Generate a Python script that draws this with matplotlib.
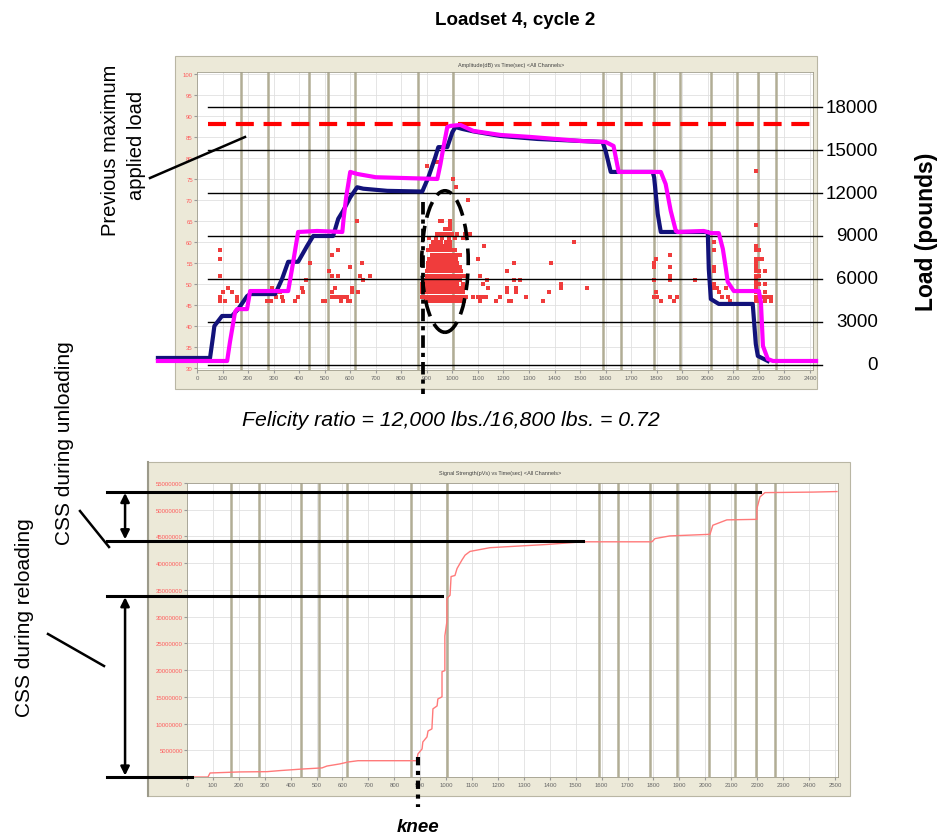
import numpy as np
import matplotlib.pyplot as plt
from matplotlib.patches import Ellipse, Rectangle
from matplotlib.transforms import blended_transform_factory

plt.rcParams['font.family'] = ['Liberation Sans', 'DejaVu Sans']
plt.rcParams['lines.scale_dashes'] = False

# ---------------- data ----------------
# thick olive channel/event markers (s), same in both screenshots
event_times = [171, 277, 438, 511, 619, 864, 1002, 1590, 1662, 1788, 1890, 2014, 2115, 2197, 2268]

# applied load (pounds) vs time (s)
blue_t = [-153, 51, 63, 68, 98, 137, 161, 196, 208, 306, 333, 357, 396, 431, 455, 533, 553, 572,
          600, 627, 651, 745, 882, 906, 933, 945, 980, 1000, 1012, 1039, 1082, 1188, 1333, 1502,
          1588, 1600, 1620, 1647, 1784, 1790, 1804, 1816, 1867, 2000, 2004, 2012, 2043, 2176,
          2188, 2196, 2235]
blue_load = [490, 490, 2020, 2720, 3420, 3420, 3900, 4800, 4950, 4950, 6000, 7200, 7200, 8300,
             9000, 9000, 10200, 10750, 11700, 12400, 12300, 12150, 12100, 13100, 14500, 15200,
             15200, 16250, 16600, 16470, 16300, 15980, 15770, 15630, 15560, 14930, 13470, 13470,
             13470, 13100, 10540, 9280, 9280, 9280, 6700, 4600, 4260, 4260, 1470, 630, 280]

mag_t = [-153, 118, 129, 149, 157, 196, 208, 357, 372, 396, 470, 569, 574, 584, 600, 627, 700,
         941, 953, 965, 980, 992, 1031, 1082, 1188, 1306, 1502, 1600, 1631, 1651, 1816, 1835,
         1855, 1875, 1882, 1984, 2012, 2043, 2059, 2071, 2078, 2102, 2200, 2208, 2216, 2235,
         2255, 2424]
mag_load = [280, 280, 1600, 3700, 3900, 3900, 5160, 5160, 6700, 9280, 9350, 9280, 10200, 11700,
            13470, 13330, 13100, 12980, 14000, 15200, 16600, 16680, 16750, 16330, 16050, 15910,
            15630, 15560, 15280, 13470, 13470, 12630, 10750, 9350, 9280, 9350, 9200, 9200, 8100,
            6700, 5800, 5160, 5160, 4400, 1330, 420, 280, 280]

load_ticks = [0, 3000, 6000, 9000, 12000, 15000, 18000]
prev_max_load = 16800

# AE hits: amplitude (dB) vs time (s)
hit_t = [90, 90, 90, 123, 101, 137, 90, 156, 90, 156, 110, 200, 273, 293, 300, 325, 310, 332, 337,
         290, 411, 417, 397, 384, 443, 425, 494, 502, 528, 554, 515, 528, 554, 541, 528, 528, 541,
         554, 567, 587, 593, 563, 580, 600, 600, 606, 606, 639, 646, 632, 678, 651, 627,
         901, 940, 1004, 1016, 1063, 953, 960, 992, 992, 985, 992,
         1082, 1102, 1125, 1110, 1137, 1118, 1141, 1100, 1115, 1130, 1110, 1169, 1188, 1215, 1215,
         1215, 1220, 1228, 1240, 1240, 1251, 1251, 1263, 1290, 1353, 1377, 1388, 1427, 1427, 1475,
         1529,
         1788, 1788, 1796, 1788, 1796, 1788, 1800, 1816, 1851, 1851, 1851, 1851, 1851, 1867, 1878,
         1949, 2024, 2024, 2024, 2024, 2024, 2024, 2037, 2045, 2071, 2078, 2086, 2055,
         2188, 2188, 2188, 2188, 2200, 2188, 2200, 2212, 2188, 2188, 2188, 2200, 2224, 2188, 2200,
         2188, 2188, 2200, 2224, 2188, 2188, 2200, 2224, 2188, 2200, 2212, 2224, 2236, 2248, 2188,
         2200, 2224, 2248]
hit_db = [58, 56, 52, 49, 48, 48, 47, 47, 46, 46, 46, 47, 46, 49, 48, 48, 47, 47, 46,
          46, 49, 48, 47, 46, 55, 51, 46, 46, 57, 58, 53, 52, 52, 49, 48, 47, 47,
          47, 47, 47, 46, 46, 47, 46, 54, 49, 48, 52, 55, 48, 52, 51, 65,
          78, 79, 75, 73, 70, 65, 65, 65, 64, 63, 63,
          47, 56, 59, 52, 51, 50, 49, 47, 47, 47, 46, 46, 47, 53, 49,
          48, 46, 46, 55, 51, 49, 48, 51, 47, 46, 48, 55, 50, 49, 60,
          49,
          55, 54, 56, 51, 48, 47, 47, 46, 57, 54, 52, 51, 47, 46, 47,
          51, 60, 58, 54, 53, 50, 49, 49, 48, 49, 47, 46, 47,
          77, 64, 59, 58, 58, 56, 56, 56, 55, 54, 53, 53, 53, 52, 52,
          51, 50, 50, 50, 49, 48, 48, 48, 47, 47, 47, 47, 47, 47, 46,
          46, 46, 46]

# dense burst of hits during reloading: dB row -> hit times (s)
burst = {
    46: [895, 905, 915, 925, 935, 945, 955, 965, 975, 985, 995, 1005, 1015, 1025, 1035, 1045],
    47: [882, 892, 902, 912, 922, 932, 942, 952, 962, 972, 982, 992, 1002, 1012, 1022, 1032, 1042, 1052],
    48: [882, 892, 902, 912, 922, 932, 942, 952, 962, 972, 982, 992, 1002, 1012, 1022, 1032, 1042],
    49: [880, 890, 900, 910, 920, 930, 940, 950, 960, 970, 980, 990, 1000, 1010, 1020, 1030, 1045],
    50: [880, 890, 900, 910, 920, 930, 940, 950, 960, 970, 980, 990, 1000, 1010, 1020, 1040],
    51: [890, 900, 910, 920, 930, 940, 950, 960, 970, 980, 990, 1000, 1010, 1020, 1030],
    52: [900, 910, 920, 930, 940, 950, 960, 970, 980, 990, 1000, 1010, 1020, 1030, 1045],
    53: [900, 910, 920, 930, 940, 950, 960, 970, 980, 990, 1000, 1010, 1020, 1035],
    54: [905, 915, 925, 935, 945, 955, 965, 975, 985, 995, 1005, 1015, 1030],
    55: [905, 915, 925, 940, 950, 960, 970, 980, 990, 1000, 1010, 1020],
    56: [910, 925, 935, 945, 960, 970, 985, 995, 1005, 1015],
    57: [920, 930, 940, 955, 965, 975, 990, 1000, 1015, 1030],
    58: [905, 920, 935, 950, 965, 980, 995, 1010],
    59: [915, 930, 945, 960, 975, 990],
    60: [925, 940, 955, 975, 990],
    61: [910, 935, 960, 985, 1010, 1040],
    62: [940, 955, 970, 985, 1000, 1020, 1050, 1070],
    63: [970, 985],
    64: [990],
}

# cumulative signal strength (pVs) vs time (s)
css_t = [0, 81, 89, 204, 309, 359, 448, 521, 540, 590, 621, 660, 887, 891, 907, 910, 926, 930, 945,
         949, 965, 968, 984, 984, 995, 995, 1003, 1003, 1015, 1019, 1034, 1042, 1061, 1073, 1092,
         1169, 1389, 1528, 1794, 1806, 1863, 2018, 2029, 2083, 2199, 2199, 2211, 2230, 2415, 2508]
css_v = [0, 0, 0.75e6, 0.95e6, 1.0e6, 1.2e6, 1.5e6, 1.7e6, 2.05e6, 2.45e6, 2.8e6, 3.05e6, 3.05e6,
         4.3e6, 5.25e6, 6.55e6, 7.5e6, 8.6e6, 9.0e6, 12.75e6, 13.3e6, 14.6e6, 15.0e6, 19.7e6,
         19.9e6, 26.4e6, 29.1e6, 33.4e6, 34.0e6, 37.5e6, 37.7e6, 39.0e6, 40.6e6, 41.5e6, 42.2e6,
         42.9e6, 43.5e6, 44.0e6, 44.0e6, 44.6e6, 45.1e6, 45.4e6, 47.1e6, 48.1e6, 48.2e6, 50.2e6,
         52.4e6, 53.2e6, 53.3e6, 53.4e6]

css_levels = [53.4e6, 44.2e6, 33.9e6, 0]
css_level_end = [2211, 1528, 984, 19]
knee_time = 891
felicity_time = 884

# ---------------- layout (pixel helpers) ----------------
W, H = 939, 837
fig = plt.figure(figsize=(W / 100, H / 100), dpi=100)


def frac(x0, y0, x1, y1):
    return [x0 / W, 1 - y1 / H, (x1 - x0) / W, (y1 - y0) / H]


bg = fig.add_axes([0, 0, 1, 1], zorder=-5)
bg.set_xlim(0, W)
bg.set_ylim(H, 0)
bg.axis('off')
beige = '#ece9d8'
bg.add_patch(Rectangle((175, 57), 642, 333, fc=beige, ec='#b9b6a4', lw=0.8))
bg.add_patch(Rectangle((148, 463), 702, 334, fc=beige, ec='#b9b6a4', lw=0.8))
bg.plot([148, 148], [463, 797], color='#9c9a8a', lw=1.5)
bg.text(511, 65, 'Amplitude(dB) vs Time(sec) <All Channels>', fontsize=4, color='#444',
        ha='center', va='center')
bg.text(500, 474, 'Signal Strength(pVs) vs Time(sec) <All Channels>', fontsize=4, color='#444',
        ha='center', va='center')

grid_c = '#e0e0e0'
event_c = '#b1ad95'

# ---------------- top: amplitude + load ----------------
ax1 = fig.add_axes(frac(197, 73, 813, 371))
ax1.set_xlim(0, 2412)
ax1.set_ylim(29.52, 100.48)
ax1.set_xticks(np.arange(0, 2401, 100))
ax1.set_yticks(np.arange(30, 101, 5))
ax1.tick_params(axis='x', labelsize=4.3, labelcolor='#666', length=2, color='#999', pad=1.5)
ax1.tick_params(axis='y', labelsize=4.3, labelcolor='#ff5a5a', length=2, color='#999', pad=1)
ax1.grid(True, color=grid_c, lw=0.6)
ax1.set_axisbelow(True)
for s in ax1.spines.values():
    s.set_color('#a09d8c')
    s.set_linewidth(0.6)
for t in event_times:
    ax1.axvline(t, color=event_c, lw=1.8, zorder=1)

bx, by = [], []
for db, times in burst.items():
    bx += times
    by += [db] * len(times)
ax1.scatter(hit_t + bx, hit_db + by, s=5.2, marker='s', color='#f03c3c', lw=0, zorder=2)

ax1.add_patch(Ellipse((971, 55.35), 182, 33.7, fill=False, ec='k', lw=2.6,
                      linestyle=(0, (12, 6)), clip_on=False, zorder=4))
ax1.plot([felicity_time, felicity_time], [69.5, 23.8], color='k', lw=2.7,
         dashes=(9, 3.6, 3, 3.6), clip_on=False, zorder=4)

ax2 = ax1.twinx()
ax2.set_ylim(-349, 20442)
ax2.axis('off')
for L in load_ticks:
    ax2.plot([43, 2447], [L, L], color='k', lw=1.0, clip_on=False)
ax2.plot([43, 2420], [prev_max_load] * 2, color='#ff0000', lw=3, dashes=(13, 7), clip_on=False)
ax2.plot(blue_t, blue_load, color='#12127a', lw=3, clip_on=False)
ax2.plot(mag_t, mag_load, color='#ff00ff', lw=3, clip_on=False)

# ---------------- bottom: cumulative signal strength ----------------
ax3 = fig.add_axes(frac(187, 484, 838, 778))
ax3.set_xlim(0, 2512)
ax3.set_ylim(0, 55e6)
ax3.set_xticks(np.arange(0, 2501, 100))
yt = np.arange(0, 55e6 + 1, 5e6)
ax3.set_yticks(yt)
ax3.set_yticklabels([f'{int(v)}' for v in yt])
ax3.tick_params(axis='x', labelsize=4.3, labelcolor='#666', length=2, color='#999', pad=1.5)
ax3.tick_params(axis='y', labelsize=4.3, labelcolor='#ff5a5a', length=2, color='#999', pad=1)
ax3.grid(True, color=grid_c, lw=0.6)
ax3.set_axisbelow(True)
for s in ax3.spines.values():
    s.set_color('#a09d8c')
    s.set_linewidth(0.6)
for t in event_times:
    ax3.axvline(t, color=event_c, lw=1.8, zorder=1)
ax3.plot(css_t, css_v, color='#ff7a7a', lw=1.0, zorder=3)

for lev, end in zip(css_levels, css_level_end):
    ax3.plot([-309, end], [lev, lev], color='k', lw=2.2, clip_on=False, zorder=5)
arrow = dict(arrowstyle='<|-|>', color='k', lw=1.8, mutation_scale=13, shrinkA=1, shrinkB=1)
ax3.annotate('', xy=(-239, css_levels[0]), xytext=(-239, css_levels[1]), arrowprops=arrow,
             annotation_clip=False)
ax3.annotate('', xy=(-239, css_levels[2]), xytext=(-239, css_levels[3]), arrowprops=arrow,
             annotation_clip=False)
ax3.plot([knee_time, knee_time], [3.75e6, -5.6e6], color='k', lw=3, dashes=(6, 4, 3, 4),
         clip_on=False, zorder=5)

# ---------------- annotations ----------------
ov = fig.add_axes([0, 0, 1, 1], zorder=10)
ov.set_xlim(0, W)
ov.set_ylim(H, 0)
ov.axis('off')

tr = blended_transform_factory(ov.transData, ax2.transData)
for L in load_ticks:
    ov.text(878, L, f'{L}', transform=tr, ha='right', va='center', fontsize=13.5)
ov.text(927, 232, 'Load (pounds)', rotation=90, ha='center', va='center', fontsize=16.5,
        weight='bold')

ov.text(515, 20, 'Loadset 4, cycle 2', ha='center', va='center', fontsize=13.5, weight='bold')
ov.text(110, 150, 'Previous maximum', rotation=90, ha='center', va='center', fontsize=14.5)
ov.text(137, 145, 'applied load', rotation=90, ha='center', va='center', fontsize=14.5)
ov.plot([150, 245], [179, 138], color='k', lw=1.8)

ov.text(451, 420, 'Felicity ratio = 12,000 lbs./16,800 lbs. = 0.72', ha='center', va='center',
        fontsize=15.3, style='italic')

ov.text(65, 443, 'CSS during unloading', rotation=90, ha='center', va='center', fontsize=15)
ov.text(25, 618, 'CSS during reloading', rotation=90, ha='center', va='center', fontsize=15)
ov.plot([80, 109], [512, 548], color='k', lw=1.8)
ov.plot([48, 104], [635, 667], color='k', lw=1.8)
ov.text(418, 828, 'knee', ha='center', va='center', fontsize=13.5, weight='bold', style='italic')

fig.savefig('out.png', dpi=100)
